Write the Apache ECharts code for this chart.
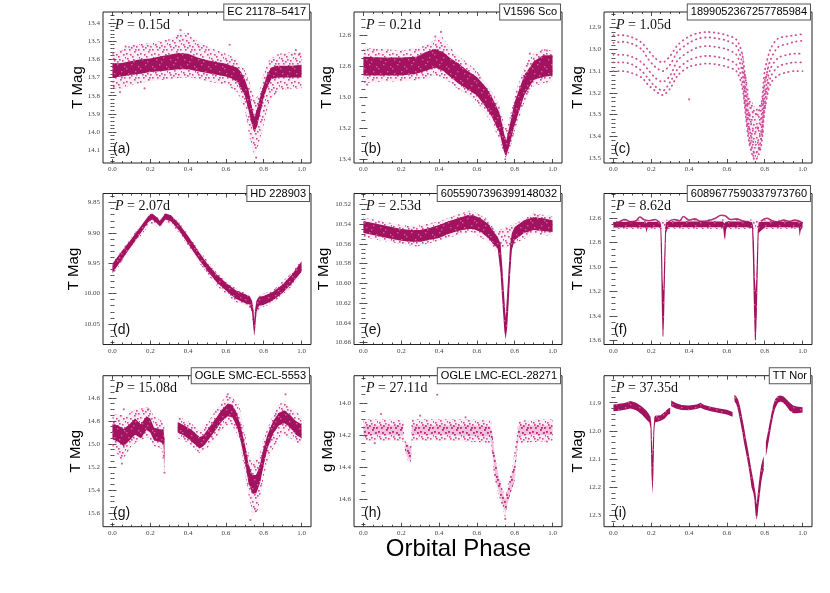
<!DOCTYPE html>
<html>
<head>
<meta charset="utf-8">
<script src="https://cdn.jsdelivr.net/npm/echarts@6/dist/echarts.min.js"></script>
<style>
  html, body { margin: 0; padding: 0; background: #fff; }
  #chart { width: 830px; height: 593px; }
</style>
</head>
<body>
<div id="chart"></div>
<script>
// panel captions
const names = ['EC 21178–5417', 'V1596 Sco', '1899052367257785984', 'HD 228903', '6055907396399148032',
  '6089677590337973760', 'OGLE SMC-ECL-5553', 'OGLE LMC-ECL-28271', 'TT Nor']
const periods = ['0.15', '0.21', '1.05', '2.07', '2.53', '8.62', '15.08', '27.11', '37.35']
const tags = ['(a)', '(b)', '(c)', '(d)', '(e)', '(f)', '(g)', '(h)', '(i)']
const yNames = ['T Mag', 'T Mag', 'T Mag', 'T Mag', 'T Mag', 'T Mag', 'T Mag', 'g Mag', 'T Mag']

// tick labels
const phaseTicks = [0.0, 0.2, 0.4, 0.6, 0.8, 1.0]
const magTicksA = [13.4, 13.5, 13.6, 13.7, 13.8, 13.9, 14.0, 14.1]
const magTicksB = [12.6, 12.8, 13.0, 13.2, 13.4]
const magTicksC = [12.9, 13.0, 13.1, 13.2, 13.3, 13.4, 13.5]
const magTicksD = [9.85, 9.90, 9.95, 10.00, 10.05]
const magTicksE = [10.52, 10.54, 10.56, 10.58, 10.60, 10.62, 10.64, 10.66]
const magTicksF = [12.6, 12.8, 13.0, 13.2, 13.4, 13.6]
const magTicksG = [14.6, 14.8, 15.0, 15.2, 15.4, 15.6]
const magTicksH = [14.0, 14.2, 14.4, 14.6]
const magTicksI = [11.9, 12.0, 12.1, 12.2, 12.3]

// axis limits (magnitudes, bright at top)
const magRangeA = [13.34, 14.17]
const magRangeB = [12.452, 13.424]
const magRangeC = [12.828, 13.523]
const magRangeD = [9.835, 10.084]
const magRangeE = [10.509, 10.662]
const magRangeF = [12.397, 13.635]
const magRangeG = [14.408, 15.718]
const magRangeH = [13.832, 14.768]
const magRangeI = [11.804, 12.34]

// light curves: [phase, brightest mag, faintest mag] of the dense core and the sparse halo; null = gap
const coreA = [[0.00,13.625,13.70],[0.05,13.62,13.695],[0.10,13.61,13.685],[0.15,13.60,13.68],[0.20,13.595,13.67],[0.25,13.585,13.665],[0.30,13.575,13.66],[0.35,13.565,13.655],[0.40,13.57,13.655],[0.45,13.59,13.665],[0.50,13.605,13.675],[0.55,13.615,13.685],[0.60,13.625,13.695],[0.63,13.635,13.705],[0.66,13.645,13.725],[0.68,13.67,13.76],[0.70,13.71,13.80],[0.72,13.77,13.88],[0.735,13.85,13.95],[0.75,13.92,14.00],[0.765,13.87,13.97],[0.78,13.81,13.90],[0.80,13.74,13.81],[0.82,13.68,13.75],[0.84,13.645,13.71],[0.87,13.635,13.70],[0.90,13.635,13.70],[0.95,13.635,13.70],[1.00,13.63,13.70]]
const haloA = [[0.00,13.56,13.76],[0.05,13.55,13.76],[0.10,13.52,13.74],[0.20,13.51,13.72],[0.30,13.49,13.71],[0.37,13.45,13.70],[0.42,13.48,13.70],[0.50,13.53,13.72],[0.60,13.57,13.74],[0.66,13.60,13.78],[0.70,13.66,13.88],[0.73,13.74,14.06],[0.75,13.82,14.13],[0.77,13.80,14.08],[0.80,13.68,13.96],[0.83,13.60,13.83],[0.88,13.57,13.77],[0.95,13.56,13.76],[1.00,13.56,13.76]]
const strayA = [[0.36,13.44],[0.40,13.46],[0.07,13.53],[0.97,13.55],[0.99,13.57],[0.76,14.14],[0.04,13.78],[0.17,13.76],[0.62,13.52]]

const coreB = [[0.00,12.74,12.86],[0.10,12.745,12.86],[0.20,12.745,12.86],[0.28,12.74,12.85],[0.33,12.71,12.83],[0.38,12.69,12.81],[0.42,12.71,12.83],[0.46,12.75,12.87],[0.50,12.78,12.91],[0.55,12.83,12.95],[0.60,12.87,12.99],[0.65,12.94,13.07],[0.68,13.00,13.13],[0.72,13.10,13.23],[0.745,13.24,13.36],[0.755,13.28,13.38],[0.77,13.20,13.32],[0.80,13.03,13.18],[0.85,12.86,12.99],[0.90,12.77,12.89],[0.95,12.73,12.87],[1.00,12.73,12.86]]
const haloB = [[0.00,12.68,12.91],[0.10,12.69,12.90],[0.20,12.70,12.90],[0.30,12.68,12.89],[0.38,12.63,12.86],[0.41,12.60,12.87],[0.45,12.67,12.90],[0.50,12.73,12.95],[0.60,12.83,13.03],[0.68,12.96,13.17],[0.72,13.06,13.28],[0.75,13.20,13.39],[0.77,13.15,13.36],[0.80,12.98,13.22],[0.85,12.81,13.04],[0.88,12.74,12.96],[0.90,12.72,12.93],[0.95,12.69,12.91],[1.00,12.70,12.90]]
const strayB = [[0.41,12.58],[0.38,12.61],[0.02,12.92],[0.75,13.40],[0.88,12.72],[0.97,12.70]]

// 1.05 d target: several separate sectors, each a dotted track
const trackC1 = [[0.00,12.935],[0.05,12.935],[0.10,12.945],[0.15,12.97],[0.18,13.00],[0.22,13.04],[0.26,13.06],[0.30,13.03],[0.34,12.98],[0.40,12.94],[0.45,12.925],[0.50,12.92],[0.55,12.925],[0.60,12.935],[0.65,12.955],[0.68,13.02],[0.70,13.15],[0.72,13.26],[0.75,13.30],[0.78,13.26],[0.80,13.10],[0.83,13.00],[0.87,12.95],[0.92,12.94],[0.96,12.935],[1.00,12.93]]
const trackC2 = [[0.00,12.97],[0.05,12.965],[0.10,12.975],[0.15,13.00],[0.18,13.04],[0.22,13.08],[0.26,13.10],[0.30,13.07],[0.34,13.01],[0.40,12.97],[0.45,12.95],[0.50,12.945],[0.55,12.95],[0.60,12.96],[0.65,12.985],[0.68,13.06],[0.70,13.20],[0.72,13.32],[0.75,13.38],[0.78,13.32],[0.80,13.16],[0.83,13.05],[0.87,12.99],[0.92,12.975],[0.96,12.965],[1.00,12.96]]
const trackC3 = [[0.00,13.025],[0.05,13.025],[0.10,13.035],[0.15,13.06],[0.18,13.09],[0.22,13.13],[0.26,13.15],[0.30,13.12],[0.34,13.05],[0.40,13.01],[0.45,12.99],[0.50,12.985],[0.55,12.99],[0.60,13.00],[0.65,13.025],[0.68,13.10],[0.70,13.24],[0.72,13.37],[0.75,13.44],[0.78,13.38],[0.80,13.21],[0.83,13.09],[0.87,13.04],[0.92,13.025],[0.96,13.02],[1.00,13.02]]
const trackC4 = [[0.00,13.06],[0.05,13.06],[0.10,13.07],[0.15,13.10],[0.18,13.13],[0.22,13.17],[0.26,13.19],[0.30,13.15],[0.34,13.09],[0.40,13.05],[0.45,13.035],[0.50,13.03],[0.55,13.035],[0.60,13.045],[0.65,13.07],[0.68,13.14],[0.70,13.28],[0.72,13.41],[0.75,13.48],[0.78,13.42],[0.80,13.25],[0.83,13.13],[0.87,13.08],[0.92,13.065],[0.96,13.06],[1.00,13.06]]
const trackC5 = [[0.00,13.10],[0.05,13.10],[0.10,13.11],[0.15,13.13],[0.18,13.16],[0.22,13.19],[0.26,13.21],[0.30,13.18],[0.34,13.12],[0.40,13.08],[0.45,13.07],[0.50,13.065],[0.55,13.07],[0.60,13.08],[0.65,13.10],[0.68,13.17],[0.70,13.31],[0.72,13.44],[0.75,13.51],[0.78,13.45],[0.80,13.28],[0.83,13.16],[0.87,13.12],[0.92,13.105],[0.96,13.10],[1.00,13.10]]
const haloC = [[0.68,13.00,13.15],[0.70,13.10,13.33],[0.72,13.22,13.45],[0.75,13.27,13.52],[0.78,13.25,13.46],[0.80,13.12,13.30],[0.82,13.02,13.18]]
const strayC = [[0.40,13.23],[0.72,13.30],[0.73,13.42],[0.76,13.36],[0.79,13.38],[0.71,13.25],[0.77,13.46],[0.74,13.49]]

const coreD = [[0.00,9.951,9.966],[0.05,9.930,9.944],[0.10,9.910,9.922],[0.15,9.889,9.900],[0.19,9.872,9.882],[0.21,9.868,9.878],[0.235,9.874,9.884],[0.25,9.880,9.889],[0.265,9.874,9.884],[0.28,9.868,9.878],[0.31,9.871,9.881],[0.35,9.884,9.895],[0.40,9.905,9.918],[0.45,9.928,9.941],[0.50,9.950,9.962],[0.55,9.968,9.981],[0.60,9.982,9.995],[0.65,9.994,10.008],[0.70,10.001,10.016],[0.725,10.004,10.018],[0.738,10.012,10.03],[0.745,10.025,10.055],[0.75,10.045,10.07],[0.755,10.025,10.055],[0.762,10.012,10.03],[0.775,10.005,10.02],[0.80,10.004,10.019],[0.85,9.997,10.011],[0.90,9.985,9.999],[0.95,9.968,9.983],[1.00,9.947,9.964]]
const haloD = [[0.00,9.948,9.970],[0.10,9.907,9.926],[0.20,9.866,9.884],[0.25,9.877,9.892],[0.28,9.865,9.881],[0.35,9.881,9.899],[0.45,9.925,9.946],[0.55,9.965,9.987],[0.65,9.991,10.014],[0.72,10.001,10.022],[0.738,10.008,10.035],[0.745,10.02,10.06],[0.75,10.04,10.074],[0.755,10.02,10.06],[0.762,10.008,10.035],[0.78,10.002,10.024],[0.85,9.994,10.016],[0.95,9.965,9.988],[1.00,9.944,9.968]]

const coreE = [[0.00,10.537,10.549],[0.05,10.539,10.551],[0.10,10.541,10.553],[0.15,10.543,10.555],[0.20,10.545,10.557],[0.25,10.546,10.558],[0.30,10.546,10.558],[0.35,10.544,10.556],[0.40,10.541,10.554],[0.45,10.537,10.550],[0.50,10.534,10.547],[0.55,10.531,10.545],[0.58,10.531,10.545],[0.62,10.534,10.548],[0.66,10.540,10.554],[0.69,10.548,10.561],[0.71,10.553,10.565],[0.725,10.56,10.59],[0.735,10.585,10.62],[0.745,10.615,10.648],[0.752,10.635,10.657],[0.76,10.61,10.645],[0.768,10.585,10.62],[0.776,10.56,10.59],[0.785,10.549,10.566],[0.80,10.543,10.556],[0.85,10.536,10.549],[0.90,10.533,10.546],[0.95,10.534,10.547],[1.00,10.536,10.548]]
const haloE = [[0.00,10.533,10.553],[0.10,10.537,10.557],[0.20,10.541,10.560],[0.28,10.542,10.563],[0.40,10.537,10.557],[0.50,10.530,10.551],[0.57,10.526,10.548],[0.65,10.534,10.557],[0.70,10.547,10.567],[0.80,10.540,10.560],[0.90,10.529,10.550],[1.00,10.532,10.552]]

const coreF = [[0.00,12.63,12.675],[0.10,12.628,12.673],[0.17,12.63,12.676],[0.175,12.64,12.72],[0.18,12.63,12.676],[0.24,12.628,12.673],[0.248,12.632,12.68],[0.252,12.66,12.95],[0.256,12.8,13.35],[0.26,13.1,13.57],[0.264,13.2,13.57],[0.268,12.95,13.4],[0.273,12.7,13.05],[0.278,12.632,12.72],[0.29,12.628,12.673],[0.40,12.626,12.673],[0.50,12.626,12.673],[0.58,12.626,12.673],[0.585,12.64,12.75],[0.59,12.64,12.78],[0.595,12.63,12.70],[0.60,12.626,12.673],[0.70,12.626,12.673],[0.733,12.632,12.68],[0.738,12.66,12.95],[0.743,12.8,13.35],[0.748,13.1,13.6],[0.753,13.2,13.6],[0.758,12.95,13.4],[0.763,12.7,13.05],[0.768,12.632,12.72],[0.80,12.628,12.673],[0.90,12.628,12.673],[0.98,12.628,12.676],[0.985,12.64,12.75],[0.99,12.632,12.70],[1.00,12.63,12.675]]
const haloF = [[0.00,12.615,12.685],[0.24,12.612,12.69],[0.30,12.612,12.685],[0.60,12.608,12.69],[1.00,12.615,12.685]]
const trackF = [[0.00,12.645],[0.03,12.63],[0.06,12.61],[0.09,12.63],[0.12,12.62],[0.14,12.59],[0.16,12.61],[0.19,12.62],[0.22,12.61],[0.24,12.63], null,
  [0.29,12.63],[0.32,12.61],[0.35,12.62],[0.37,12.585],[0.40,12.615],[0.43,12.605],[0.46,12.625],[0.50,12.62],[0.54,12.60],[0.57,12.575],[0.59,12.58],[0.62,12.61],[0.65,12.605],[0.68,12.62],[0.72,12.63], null,
  [0.78,12.625],[0.81,12.60],[0.84,12.62],[0.87,12.63],[0.90,12.615],[0.93,12.625],[0.96,12.615],[1.00,12.64]]

const coreG = [[0.00,14.83,14.96],[0.03,14.84,14.98],[0.06,14.87,15.02],[0.09,14.83,14.97],[0.12,14.78,14.92],[0.15,14.83,14.95],[0.18,14.76,14.88],[0.20,14.78,14.90],[0.22,14.86,14.97],[0.25,14.87,14.98],[0.27,14.88,15.00],[0.275,14.95,15.22], null,
  [0.345,14.81,14.90],[0.38,14.84,14.93],[0.42,14.88,14.98],[0.46,14.94,15.04],[0.48,14.93,15.02],[0.51,14.86,14.96],[0.55,14.77,14.87],[0.58,14.70,14.80],[0.61,14.65,14.76],[0.635,14.66,14.77],[0.66,14.74,14.86],[0.68,14.86,14.99],[0.70,15.00,15.15],[0.72,15.18,15.34],[0.74,15.27,15.43],[0.76,15.27,15.43],[0.78,15.18,15.34],[0.80,15.03,15.18],[0.82,14.92,15.04],[0.85,14.80,14.91],[0.88,14.73,14.84],[0.91,14.71,14.82],[0.94,14.75,14.86],[0.97,14.80,14.92],[1.00,14.83,14.95]]
const haloG = [[0.00,14.74,15.02],[0.05,14.75,15.15],[0.07,14.76,15.10],[0.10,14.72,15.02],[0.13,14.70,14.98],[0.19,14.68,14.94],[0.22,14.76,15.02],[0.26,14.80,15.04],[0.275,14.85,15.27], null,
  [0.345,14.76,14.95],[0.40,14.80,14.99],[0.46,14.88,15.08],[0.50,14.82,15.04],[0.55,14.70,14.94],[0.60,14.58,14.84],[0.63,14.59,14.83],[0.67,14.66,14.95],[0.70,14.90,15.25],[0.72,15.08,15.45],[0.74,15.15,15.62],[0.77,15.13,15.57],[0.80,14.95,15.28],[0.83,14.82,15.10],[0.87,14.68,14.98],[0.90,14.63,14.92],[0.94,14.68,14.95],[1.00,14.76,15.02]]
const strayG = [[0.73,15.66],[0.76,15.58],[0.61,14.57],[0.915,14.57],[0.05,15.17],[0.275,15.25],[0.06,14.70],[0.19,14.70]]

const coreH = [[0.00,14.14,14.20],[0.10,14.14,14.20],[0.21,14.14,14.205], null,
  [0.22,14.24,14.30],[0.24,14.27,14.35],[0.25,14.28,14.36],[0.253,14.22,14.30], null,
  [0.255,14.14,14.20],[0.40,14.14,14.20],[0.55,14.14,14.205],[0.67,14.145,14.21],[0.68,14.18,14.28],[0.70,14.36,14.48],[0.72,14.48,14.56],[0.74,14.57,14.64],[0.75,14.60,14.68],[0.76,14.55,14.64],[0.78,14.47,14.55],[0.80,14.38,14.48],[0.81,14.26,14.32],[0.82,14.14,14.21],[0.85,14.14,14.20],[1.00,14.14,14.20]]
const haloH = [[0.00,14.10,14.235],[0.20,14.105,14.235],[0.215,14.11,14.25], null,
  [0.218,14.22,14.30],[0.235,14.25,14.36],[0.25,14.27,14.38],[0.253,14.20,14.30], null,
  [0.255,14.10,14.235],[0.50,14.10,14.235],[0.675,14.11,14.25],[0.69,14.30,14.45],[0.71,14.43,14.55],[0.74,14.55,14.67],[0.75,14.60,14.72],[0.76,14.52,14.62],[0.79,14.38,14.52],[0.805,14.25,14.35],[0.82,14.11,14.25],[1.00,14.10,14.235]]
const strayH = [[0.093,14.07],[0.06,14.25],[0.39,13.95],[0.54,14.09],[0.97,14.24],[0.30,14.08],[0.75,14.72]]

const coreI = [[0.00,11.906,11.930],[0.03,11.904,11.928],[0.06,11.901,11.925],[0.09,11.894,11.920],[0.12,11.900,11.927],[0.15,11.913,11.942],[0.175,11.928,11.960],[0.19,11.943,11.970],[0.196,11.950,11.99],[0.201,11.98,12.15],[0.206,12.09,12.225],[0.211,12.0,12.16],[0.216,11.952,12.0],[0.22,11.946,11.970],[0.25,11.944,11.964],[0.27,11.933,11.957],[0.29,11.920,11.942],[0.30,11.918,11.940], null,
  [0.305,11.892,11.912],[0.33,11.901,11.920],[0.36,11.908,11.926],[0.40,11.910,11.927],[0.44,11.906,11.922],[0.46,11.900,11.918],[0.48,11.908,11.924],[0.52,11.915,11.931],[0.56,11.920,11.936],[0.60,11.925,11.942],[0.63,11.933,11.950], null,
  [0.64,11.872,11.895],[0.65,11.878,11.905],[0.66,11.89,11.93],[0.67,11.915,11.965],[0.68,11.95,12.00],[0.69,11.985,12.04],[0.70,12.025,12.075],[0.71,12.06,12.11],[0.72,12.10,12.15],[0.73,12.14,12.20],[0.74,12.175,12.22],[0.745,12.195,12.24],[0.752,12.225,12.30],[0.757,12.26,12.315],[0.762,12.23,12.30],[0.768,12.19,12.26],[0.775,12.15,12.22],[0.782,12.12,12.18],[0.79,12.10,12.15],[0.795,12.09,12.14], null,
  [0.806,12.04,12.09],[0.815,12.01,12.06],[0.825,11.975,12.02],[0.835,11.94,11.98],[0.845,11.908,11.945],[0.855,11.888,11.92],[0.87,11.876,11.90],[0.885,11.874,11.896],[0.90,11.878,11.902],[0.915,11.888,11.912],[0.93,11.898,11.927],[0.95,11.910,11.937],[0.97,11.913,11.937],[1.00,11.916,11.935]]

// layout
const colLeft = [103, 354, 604]
const rowTop = [12, 193.5, 375.7]
const panelW = 208
const panelH = 151
const CORE = '#a2135f'
const DOT = '#d0509a'

// speckled fills so bands read as clouds of points
function speckle (bg, dot, size, spots, r) {
  const c = document.createElement('canvas')
  c.width = c.height = size
  const g = c.getContext('2d')
  if (bg) { g.fillStyle = bg; g.fillRect(0, 0, size, size) }
  g.fillStyle = dot
  spots.forEach(s => g.fillRect(s[0], s[1], r, r))
  return { image: c, repeat: 'repeat' }
}
const haloSpots = [[1, 2], [6, 0], [10, 4], [3, 7], [8, 9], [0, 11], [5, 5], [12, 7], [4, 12], [11, 12], [7, 3], [2, 4], [13, 1], [9, 7]]
const coreSpots = [[2, 3], [9, 1], [5, 8], [12, 10], [0, 12], [7, 5]]
const HALO = speckle('rgba(205, 80, 150, 0.10)', 'rgba(196, 45, 128, 0.85)', 14, haloSpots, 1.6)
const CORE_FILL = speckle(CORE, 'rgba(215, 100, 160, 0.9)', 14, coreSpots, 1.4)
const H_CORE = speckle('rgba(215, 90, 155, 0.30)', 'rgba(190, 40, 125, 0.9)', 14, haloSpots, 1.8)

const panels = [
  { ticks: magTicksA, range: magRangeA, ndiv: 5, dec: 1, core: coreA, halo: haloA, stray: strayA, labelGap: 25.5 },
  { ticks: magTicksB, range: magRangeB, ndiv: 4, dec: 1, core: coreB, halo: haloB, stray: strayB, labelGap: 27 },
  { ticks: magTicksC, range: magRangeC, ndiv: 5, dec: 1, halo: haloC, stray: strayC, tracks: [trackC1, trackC2, trackC3, trackC4, trackC5], labelGap: 26 },
  { ticks: magTicksD, range: magRangeD, ndiv: 5, dec: 2, core: coreD, halo: haloD, labelGap: 29 },
  { ticks: magTicksE, range: magRangeE, ndiv: 4, dec: 2, core: coreE, halo: haloE, labelGap: 30 },
  { ticks: magTicksF, range: magRangeF, ndiv: 4, dec: 1, core: coreF, halo: haloF, lines: trackF, labelGap: 26 },
  { ticks: magTicksG, range: magRangeG, ndiv: 4, dec: 1, core: coreG, halo: haloG, stray: strayG, labelGap: 27.5 },
  { ticks: magTicksH, range: magRangeH, ndiv: 4, dec: 1, core: coreH, halo: haloH, stray: strayH, coreFill: H_CORE, labelGap: 26 },
  { ticks: magTicksI, range: magRangeI, ndiv: 5, dec: 1, core: coreI, labelGap: 26 }
]

function minorTicks (major, ndiv, lo, hi) {
  const step = (major[1] - major[0]) / ndiv
  const out = []
  let v = major[0] - Math.floor((major[0] - lo) / step) * step
  for (; v < hi; v += step) {
    if (v > lo && !major.some(m => Math.abs(m - v) < step / 10)) out.push(+v.toFixed(5))
  }
  return out
}

function splitRows (rows) {
  const segs = [[]]
  rows.forEach(r => { if (r) segs[segs.length - 1].push(r); else segs.push([]) })
  return segs.filter(s => s.length > 1)
}

function mkAxis (gi, pos, range, ticks, len, showLabel, dec, inverse) {
  return {
    type: 'value', gridIndex: gi, position: pos, min: range[0], max: range[1], inverse: inverse,
    axisLine: { show: false }, splitLine: { show: false },
    axisTick: { show: true, inside: true, length: len, customValues: ticks, lineStyle: { color: '#222', width: 0.8 } },
    axisLabel: {
      show: showLabel, customValues: ticks, margin: 3,
      fontFamily: 'Liberation Serif', fontSize: 7, color: '#444',
      formatter: v => v.toFixed(dec)
    }
  }
}

function bandSeries (rows, gi, fill) {
  return {
    type: 'custom', xAxisIndex: gi * 4, yAxisIndex: gi * 4, silent: true, z: 2,
    data: [[0, 0]],
    renderItem: function (params, api) {
      const children = splitRows(rows).map(seg => {
        const upper = seg.map(r => api.coord([r[0], r[1]]))
        const lower = seg.map(r => api.coord([r[0], r[2]])).reverse()
        return { type: 'polygon', shape: { points: upper.concat(lower) }, style: { fill: fill } }
      })
      return { type: 'group', children: children }
    }
  }
}

const grids = [], xAxes = [], yAxes = [], series = [], graphics = []
const xRange = [-0.05, 1.05]
const xMinor = minorTicks(phaseTicks, 4, xRange[0], xRange[1])

panels.forEach((p, i) => {
  const left = colLeft[i % 3]
  const top = rowTop[Math.floor(i / 3)]
  grids.push({ left: left, top: top, width: panelW, height: panelH, show: true, borderColor: '#222', borderWidth: 1, backgroundColor: 'transparent', z: 5 })

  const yMinor = minorTicks(p.ticks, p.ndiv, p.range[0], p.range[1])
  xAxes.push(mkAxis(i, 'bottom', xRange, phaseTicks, 4, true, 1, false))
  xAxes.push(mkAxis(i, 'bottom', xRange, xMinor, 2, false, 1, false))
  xAxes.push(mkAxis(i, 'top', xRange, phaseTicks, 4, false, 1, false))
  xAxes.push(mkAxis(i, 'top', xRange, xMinor, 2, false, 1, false))
  yAxes.push(mkAxis(i, 'left', p.range, p.ticks, 4, true, p.dec, true))
  yAxes.push(mkAxis(i, 'left', p.range, yMinor, 2, false, p.dec, true))
  yAxes.push(mkAxis(i, 'right', p.range, p.ticks, 4, false, p.dec, true))
  yAxes.push(mkAxis(i, 'right', p.range, yMinor, 2, false, p.dec, true))

  if (p.halo) series.push(bandSeries(p.halo, i, HALO))
  if (p.core) series.push(bandSeries(p.core, i, p.coreFill || CORE_FILL))
  if (p.tracks) {
    p.tracks.forEach(t => series.push({
      type: 'line', xAxisIndex: i * 4, yAxisIndex: i * 4, data: t, smooth: 0.3, showSymbol: false, silent: true,
      lineStyle: { color: DOT, width: 1.8, type: [0.5, 4.2], cap: 'round' }
    }))
  }
  if (p.lines) {
    splitRows(p.lines).forEach(seg => series.push({
      type: 'line', xAxisIndex: i * 4, yAxisIndex: i * 4, data: seg, smooth: 0.4, showSymbol: false, silent: true,
      lineStyle: { color: CORE, width: 1.6, opacity: 0.85 }
    }))
  }
  if (p.stray) {
    series.push({
      type: 'scatter', xAxisIndex: i * 4, yAxisIndex: i * 4, data: p.stray, symbolSize: 2.2, silent: true,
      itemStyle: { color: '#c8408c', opacity: 0.8 }
    })
  }

  // caption box, period, panel letter, y title
  graphics.push({
    type: 'text', x: left + panelW - 2, y: top, z: 100,
    style: {
      text: names[i], font: '11px "Liberation Sans"', fill: '#000', align: 'right', verticalAlign: 'middle',
      backgroundColor: '#fff', borderColor: '#555', borderWidth: 1, padding: [2, 3, 2, 3]
    }
  })
  graphics.push({
    type: 'text', x: left + 12, y: top + 13, z: 100,
    style: {
      text: '{i|P} = ' + periods[i] + 'd', font: '14px "Liberation Serif"', fill: '#111', verticalAlign: 'middle',
      rich: { i: { font: 'italic 14px "Liberation Serif"', fill: '#111' } }
    }
  })
  graphics.push({
    type: 'text', x: left + 10, y: top + panelH - 14, z: 100,
    style: { text: tags[i], font: '14px "Liberation Sans"', fill: '#111', verticalAlign: 'middle' }
  })
  graphics.push({
    type: 'text', x: left - p.labelGap, y: top + panelH / 2, rotation: Math.PI / 2, z: 100,
    style: { text: yNames[i], font: '15px "Liberation Sans"', fill: '#000', align: 'center', verticalAlign: 'middle' }
  })
})

graphics.push({
  type: 'text', x: 458.5, y: 549, z: 100,
  style: { text: 'Orbital Phase', font: '24px "Liberation Sans"', fill: '#000', align: 'center', verticalAlign: 'middle' }
})

const chart = echarts.init(document.getElementById('chart'), null, { renderer: 'canvas' })
chart.setOption({
  animation: false,
  backgroundColor: '#fff',
  grid: grids,
  xAxis: xAxes,
  yAxis: yAxes,
  series: series,
  graphic: { elements: graphics }
})
</script>
</body>
</html>
